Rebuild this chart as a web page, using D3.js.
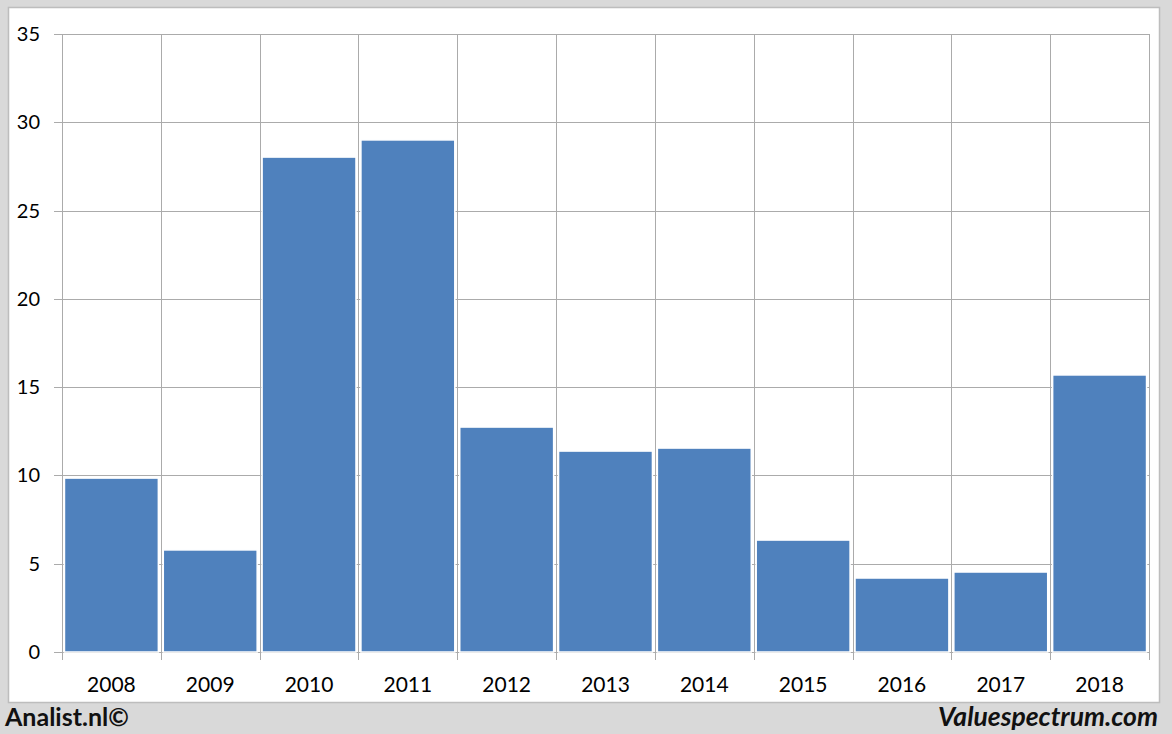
<!DOCTYPE html>
<html><head><meta charset="utf-8">
<script src="https://cdn.jsdelivr.net/npm/d3@7"></script>
<style>body{margin:0;background:#d9d9d9;}svg{display:block;}</style>
</head><body>
<svg id="c" width="1172" height="734"></svg>
<script>
const years = ["2008","2009","2010","2011","2012","2013","2014","2015","2016","2017","2018"];
const values = [9.85, 5.78, 28.03, 29.0, 12.74, 11.38, 11.55, 6.34, 4.19, 4.53, 15.69];
const yTicks = [0, 5, 10, 15, 20, 25, 30, 35];

const svg = d3.select("#c");
const font = "Lato, 'Open Sans', sans-serif";
svg.append("rect").attr("x",0).attr("y",0).attr("width",1172).attr("height",734).attr("fill","#d9d9d9");
svg.append("rect").attr("x",8.5).attr("y",7.5).attr("width",1151).attr("height",695)
  .attr("fill","#fff").attr("stroke","#bdbdbd").attr("stroke-width",1.5);

const L=62, R=1149, T=34, B=652;
const x = d3.scaleBand().domain(years).range([L,R]).paddingInner(0.05).paddingOuter(0.025);
const y = d3.scaleLinear().domain([0,35]).range([B,T]);
const grid = "#ababab";
const step = (R-L)/years.length;

svg.append("g").selectAll("line").data(yTicks).join("line")
  .attr("x1",54).attr("x2",R).attr("y1",d=>Math.round(y(d))+0.5).attr("y2",d=>Math.round(y(d))+0.5)
  .attr("stroke",grid).attr("stroke-width",1);
const bounds = d3.range(years.length+1).map(i=>L+i*step);
svg.append("g").selectAll("line").data(bounds).join("line")
  .attr("x1",d=>Math.round(d)+0.5).attr("x2",d=>Math.round(d)+0.5).attr("y1",T).attr("y2",660)
  .attr("stroke",grid).attr("stroke-width",1);

svg.append("g").selectAll("rect").data(values).join("rect")
  .attr("x",(d,i)=>x(years[i])).attr("width",x.bandwidth())
  .attr("y",d=>y(d)).attr("height",d=>B-y(d))
  .attr("fill","#4f81bd").attr("stroke","#fff").attr("stroke-width",1.5);

svg.append("g").selectAll("text").data(yTicks).join("text")
  .attr("x",40).attr("y",d=>y(d)+7).attr("text-anchor","end")
  .attr("font-family",font).attr("font-size",20).attr("fill","#000").text(d=>d);
svg.append("g").selectAll("text").data(years).join("text")
  .attr("x",d=>x(d)+x.bandwidth()/2).attr("y",692).attr("text-anchor","middle")
  .attr("font-family",font).attr("font-size",21).attr("fill","#000").text(d=>d);

svg.append("text").attr("x",5).attr("y",726).attr("font-family",font).attr("font-weight","bold")
  .attr("font-size",25).attr("fill","#111").text("Analist.nl©");
svg.append("text").attr("x",1158).attr("y",726).attr("text-anchor","end").attr("font-family",font)
  .attr("font-weight","bold").attr("font-style","italic").attr("font-size",26.5).attr("fill","#111").text("Valuespectrum.com");
</script>
</body></html>
